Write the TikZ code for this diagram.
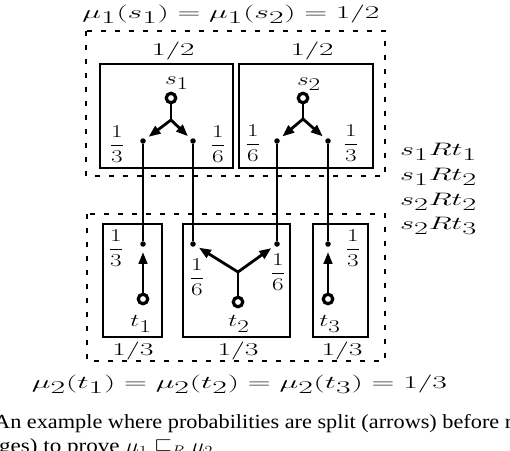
\RequirePackage{fix-cm}
\documentclass[tikz,border=0pt]{standalone}
\usepackage{fontspec}
\newfontfamily\capfont{Liberation Serif}
\usetikzlibrary{arrows.meta}
\newcommand\fitw[2]{\resizebox{#1}{\height}{#2}}
\newcommand\hstr[1]{\scalebox{1.4}[1]{#1}}
\newcommand\sbs[1]{_{\textstyle #1}}
\tikzset{
  frame/.style={draw, line width=2.8pt},
  dotbox/.style={draw, line width=2.6pt, dash pattern=on 5pt off 9pt},
  state/.style={circle, draw, line width=3.2pt, minimum size=9.5pt, inner sep=0pt, fill=white},
  pt/.style={circle, fill, minimum size=5.5pt, inner sep=0pt},
  txt/.style={font=\fontsize{18}{20}\selectfont, inner sep=0pt},
  fr/.style={font=\fontsize{18}{20}\selectfont, inner sep=0pt},
  link/.style={line width=2.7pt},
  arr/.style={line width=2.8pt, -{Triangle[length=12pt,width=9pt]}, shorten >=4pt},
  uparr/.style={line width=2.8pt, -{Triangle[length=12pt,width=8.5pt]}, shorten >=5pt},
  captxt/.style={inner sep=0pt, anchor=base west, font=\capfont\fontsize{20}{22}\selectfont},
}
\begin{document}
\begin{tikzpicture}[x=1pt,y=-1pt]
\useasboundingbox (0,0) rectangle (510,450);
\clip (0,0) rectangle (510,450);

% dotted groups
\draw[dotbox] (86,31) rectangle (385,176);
\draw[dotbox] (87,214) rectangle (385,361);

% frames
\draw[frame] (100,64) rectangle (233,168);
\draw[frame] (239,64) rectangle (373,168);
\draw[frame] (103,224) rectangle (162,337);
\draw[frame] (183,224) rectangle (290,337);
\draw[frame] (313,224) rectangle (368,337);

% states
\node[state] (s1) at (171,98) {};
\node[state] (s2) at (303,98) {};
\node[state] (t1) at (143,299) {};
\node[state] (t2) at (238,302) {};
\node[state] (t3) at (328,299) {};

% dots
\node[pt] (a1) at (143,141) {};
\node[pt] (a2) at (193,141) {};
\node[pt] (a3) at (277,141) {};
\node[pt] (a4) at (328,141) {};
\node[pt] (c1) at (143,244) {};
\node[pt] (c2) at (193,244) {};
\node[pt] (c3) at (277,244) {};
\node[pt] (c4) at (328,244) {};

% branch points
\coordinate (b1) at (171,120);
\coordinate (b2) at (303,119);
\coordinate (b3) at (238,272);

% splits
\draw[link] (s1) -- (b1);
\draw[arr] (b1) -- (a1);
\draw[arr] (b1) -- (a2);
\draw[link] (s2) -- (b2);
\draw[arr] (b2) -- (a3);
\draw[arr] (b2) -- (a4);
\draw[link] (t2) -- (b3);
\draw[arr] (b3) -- (c2);
\draw[arr] (b3) -- (c3);
\draw[uparr] (t1) -- (c1);
\draw[uparr] (t3) -- (c4);

% matching links
\draw[link] (a1) -- (c1);
\draw[link] (a2) -- (c2);
\draw[link] (a3) -- (c3);
\draw[link] (a4) -- (c4);

% state labels
\node[txt] (ls1) at (177,83) {\hstr{$s\sbs{1}$}};
\node[txt] (ls2) at (309,84) {\hstr{$s\sbs{2}$}};
\node[txt] (lt1) at (141,324) {\hstr{$t\sbs{1}$}};
\node[txt] (lt2) at (239,324) {\hstr{$t\sbs{2}$}};
\node[txt] (lt3) at (330,324) {\hstr{$t\sbs{3}$}};

% fractions
\node[fr] (f1) at (117,144) {\hstr{$\displaystyle\frac{1}{3}$}};
\node[fr] (f2) at (218,144) {\hstr{$\displaystyle\frac{1}{6}$}};
\node[fr] (f3) at (253,143) {\hstr{$\displaystyle\frac{1}{6}$}};
\node[fr] (f4) at (351,143) {\hstr{$\displaystyle\frac{1}{3}$}};
\node[fr] (f5) at (116,248) {\hstr{$\displaystyle\frac{1}{3}$}};
\node[fr] (f6) at (197,277) {\hstr{$\displaystyle\frac{1}{6}$}};
\node[fr] (f7) at (278,272) {\hstr{$\displaystyle\frac{1}{6}$}};
\node[fr] (f8) at (353,248) {\hstr{$\displaystyle\frac{1}{3}$}};

% box weights
\node[txt, anchor=base] (w1) at (173,55) {\fitw{43pt}{$1/2$}};
\node[txt, anchor=base] (w2) at (312,55) {\fitw{43pt}{$1/2$}};
\node[txt, anchor=base] (w3) at (133,355) {\fitw{41pt}{$1/3$}};
\node[txt, anchor=base] (w4) at (238,355) {\fitw{41pt}{$1/3$}};
\node[txt, anchor=base] (w5) at (342,355) {\fitw{41pt}{$1/3$}};

% titles
\node[txt, anchor=base] (top) at (231,18) {\fitw{297pt}{$\mu\sbs{1}(s\sbs{1}) = \mu\sbs{1}(s\sbs{2}) = 1/2$}};
\node[txt, anchor=base] (bot) at (239.5,388) {\fitw{415pt}{$\mu\sbs{2}(t\sbs{1}) = \mu\sbs{2}(t\sbs{2}) = \mu\sbs{2}(t\sbs{3}) = 1/3$}};

% relation
\node[txt, anchor=base west] (r1) at (400,155) {\fitw{77pt}{$s\sbs{1}Rt\sbs{1}$}};
\node[txt, anchor=base west] (r2) at (400,180) {\fitw{77pt}{$s\sbs{1}Rt\sbs{2}$}};
\node[txt, anchor=base west] (r3) at (400,205) {\fitw{77pt}{$s\sbs{2}Rt\sbs{2}$}};
\node[txt, anchor=base west] (r4) at (400,229) {\fitw{77pt}{$s\sbs{2}Rt\sbs{3}$}};

% caption (cut off by the frame of the picture)
\node[captxt] (cap1) at (-6,428) {\fitw{518pt}{An example where probabilities are split (arrows) before r}};
\node[captxt] (cap2) at (-1,452) {\fitw{214pt}{ges) to prove $\mu_1 \sqsubseteq_R \mu_2$}};
\end{tikzpicture}
\end{document}
